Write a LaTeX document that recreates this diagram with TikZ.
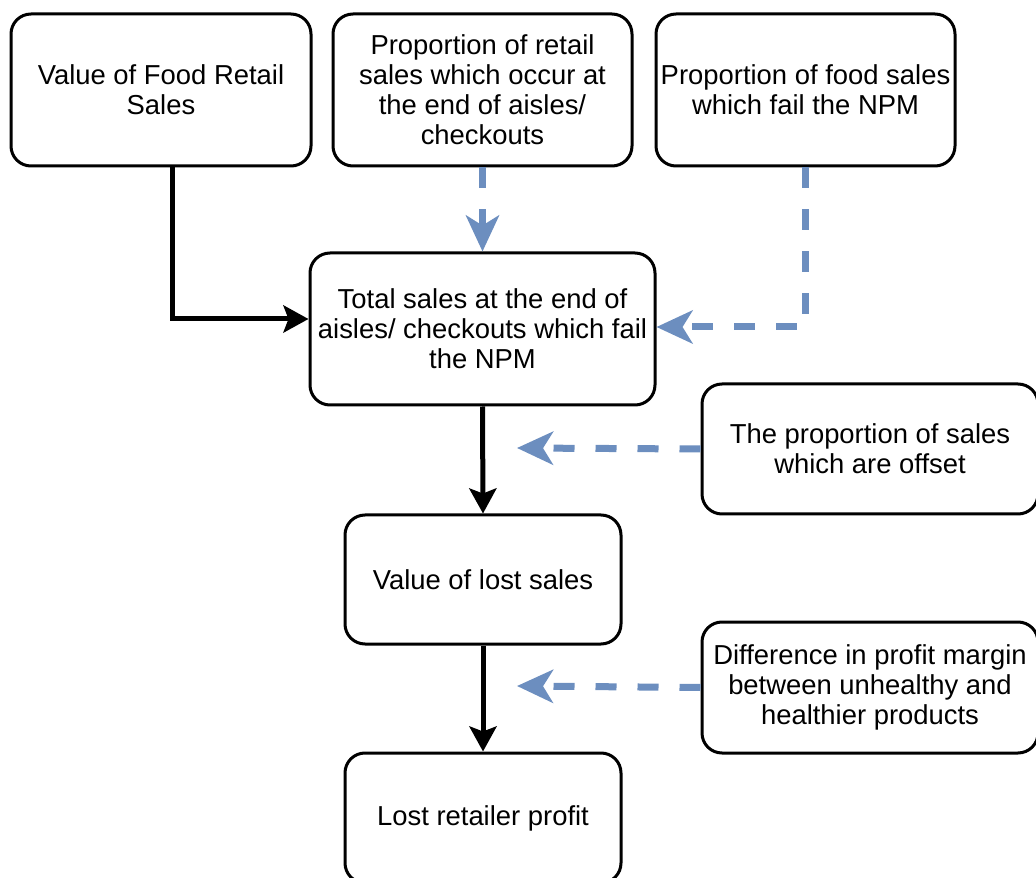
\documentclass[tikz,border=0pt]{standalone}
\usepackage{fontspec}
\setmainfont{Liberation Sans}
\usetikzlibrary{arrows.meta}
\definecolor{inblue}{HTML}{6C8EBF}

\begin{document}
\begin{tikzpicture}[
    box/.style={draw, line width=0.06cm, rounded corners=0.4cm, align=center,
        inner sep=0pt, font=\fontsize{15.6}{17}\selectfont},
    mainflow/.style={line width=0.1cm, -{Stealth[length=0.5cm, width=0.54cm, inset=0.1cm]}},
    inflow/.style={draw=inblue, line width=0.14cm, dash pattern=on 0.42cm off 0.42cm,
        -{Stealth[length=0.72cm, width=0.66cm, inset=0.2cm, fill=inblue]}}]
    \useasboundingbox (0,0) rectangle (20.72,-17.56);
    \node[box, minimum width=6cm, minimum height=3.04cm] (foodsales) at (3.22,-1.8) {Value of Food Retail\\Sales};
    \node[box, minimum width=5.98cm, minimum height=3.04cm] (endaisle) at (9.65,-1.8) {Proportion of retail\\sales which occur at\\the end of aisles/\\checkouts};
    \node[box, minimum width=5.98cm, minimum height=3.04cm] (failnpm) at (16.11,-1.8) {Proportion of food sales\\which fail the NPM};
    \node[box, minimum width=6.9cm, minimum height=3.04cm] (total) at (9.65,-6.58) {Total sales at the end of\\aisles/ checkouts which fail\\the NPM};
    \node[box, minimum width=6.72cm, minimum height=2.6cm] (offset) at (17.4,-8.98) {The proportion of sales\\which are offset};
    \node[box, minimum width=5.52cm, minimum height=2.58cm] (lostsales) at (9.66,-11.59) {Value of lost sales};
    \node[box, minimum width=6.72cm, minimum height=2.62cm] (margin) at (17.4,-13.75) {Difference in profit margin\\between unhealthy and\\healthier products};
    \node[box, minimum width=5.52cm, minimum height=2.6cm] (lostprofit) at (9.66,-16.36) {Lost retailer profit};
    \coordinate (offsetend) at (10.34,-8.96);
    \coordinate (marginend) at (10.34,-13.72);
    \draw[mainflow] ([xshift=0.22cm]foodsales.south) |- ([yshift=0.2cm]total.west);
    \draw[inflow] (endaisle.south) -- (total.north);
    \draw[inflow] ([xshift=-0.01cm]failnpm.south) |- ([yshift=0.04cm]total.east);
    \draw[mainflow] (total.south) -- (lostsales.north);
    \draw[inflow] (offset.west) -- (offsetend);
    \draw[inflow] (margin.west) -- (marginend);
    \draw[mainflow] (lostsales.south) -- (lostprofit.north);
\end{tikzpicture}
\end{document}
